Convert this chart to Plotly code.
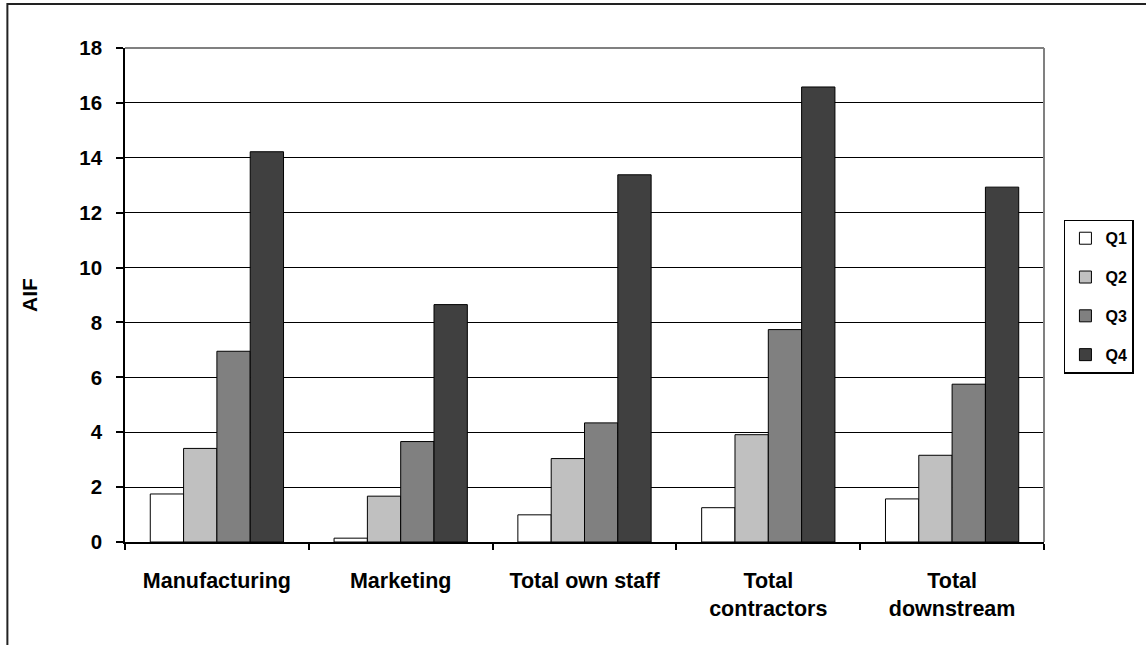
import plotly.graph_objects as go

categories = ["Manufacturing", "Marketing", "Total own staff", "Total<br>contractors", "Total<br>downstream"]
series_names = ["Q1", "Q2", "Q3", "Q4"]
q1 = [1.75, 0.14, 0.99, 1.25, 1.57]
q2 = [3.41, 1.67, 3.04, 3.91, 3.16]
q3 = [6.95, 3.66, 4.34, 7.74, 5.75]
q4 = [14.22, 8.65, 13.38, 16.58, 12.93]
series_values = [q1, q2, q3, q4]
colors = ["#FFFFFF", "#C0C0C0", "#808080", "#404040"]
y_ticks = [0, 2, 4, 6, 8, 10, 12, 14, 16, 18]

FONT = "Liberation Sans, Arial, sans-serif"

fig = go.Figure()
for name, vals, col in zip(series_names, series_values, colors):
    fig.add_trace(go.Bar(
        x=categories, y=vals, name=name, legendgroup=name,
        marker=dict(color=col, line=dict(color="#000000", width=1)),
    ))

W, H = 1146, 645
L, R, T, B = 125, 99, 48, 102.5
pw, ph = W - L - R, H - T - B

def px_x(p):
    return (p - L) / pw

def px_y(p):
    return (H - B - p) / ph

fig.update_layout(
    width=W, height=H,
    margin=dict(l=L, r=R, t=T, b=B),
    paper_bgcolor="white", plot_bgcolor="white",
    barmode="group", bargap=0.275, bargroupgap=0,
    font=dict(family=FONT, size=20, color="#000000"),
    showlegend=True,
    legend=dict(
        x=px_x(1067), y=px_y(220), xanchor="left", yanchor="top",
        bordercolor="#000000", borderwidth=1.5, bgcolor="white",
        font=dict(family=FONT, size=16, color="#000000", weight="bold"),
        itemwidth=30, tracegroupgap=15,
    ),
    xaxis=dict(
        type="category", showline=True, linecolor="#000000", linewidth=1.5,
        ticks="outside", tickson="boundaries", ticklen=6, tickcolor="#000000", tickwidth=1.5,
        tickfont=dict(family=FONT, size=21.5, color="#000000", weight="bold"),
        showgrid=False, ticklabelstandoff=18,
    ),
    yaxis=dict(
        range=[0, 18], tickvals=y_ticks, ticktext=[str(v) for v in y_ticks],
        showline=True, linecolor="#000000", linewidth=1.5,
        ticks="outside", ticklen=7, tickcolor="#000000", tickwidth=1.5,
        showgrid=True, gridcolor="#000000", gridwidth=1, zeroline=False,
        tickfont=dict(family=FONT, size=20.5, color="#000000", weight="bold"),
        ticklabelstandoff=10,
        title=dict(text="AIF", font=dict(family=FONT, size=21, color="#000000", weight="bold"), standoff=36),
    ),
    shapes=[
        dict(type="line", xref="paper", yref="paper", x0=0, x1=1, y0=1, y1=1,
             line=dict(color="#808080", width=2), layer="above"),
        dict(type="line", xref="paper", yref="paper", x0=1, x1=1, y0=0, y1=1,
             line=dict(color="#808080", width=2), layer="above"),
        dict(type="rect", xref="paper", yref="paper",
             x0=px_x(7), x1=px_x(1160), y0=px_y(4), y1=px_y(660),
             line=dict(color="#222222", width=2), fillcolor="rgba(0,0,0,0)", layer="above"),
    ],
)

fig.write_html("out.html")
